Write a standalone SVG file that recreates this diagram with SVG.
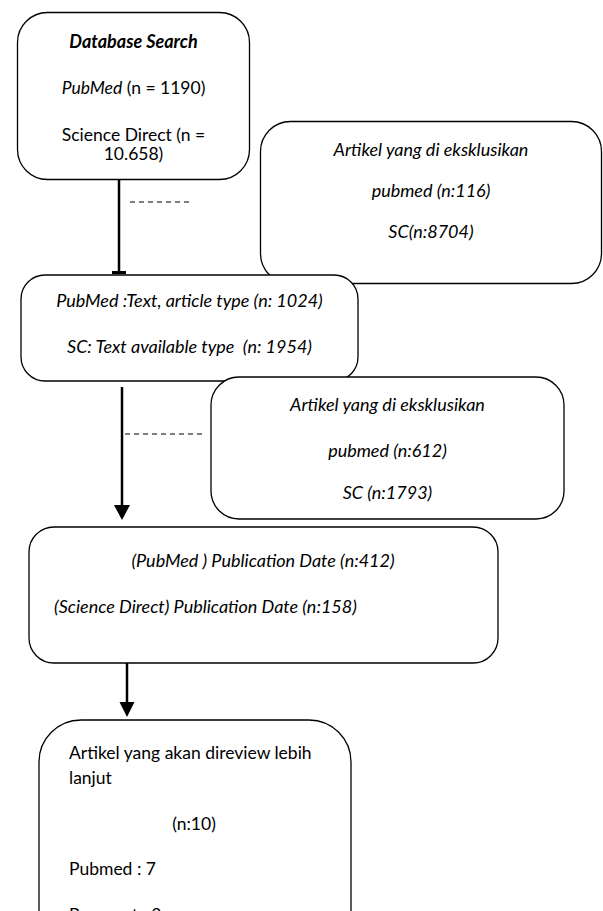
<svg xmlns="http://www.w3.org/2000/svg" width="603" height="911" viewBox="0 0 603 911">
<style>
.box{fill:#fff;stroke:#000;stroke-width:1.3}
.t{font-family:Lato,"Open Sans","Liberation Sans",sans-serif;font-size:17.5px;fill:#000}
.i{font-style:italic;font-size:18px}
.c{text-anchor:middle}
.ln{stroke:#000;stroke-width:2.5;fill:none}
.ds{stroke:#000;stroke-width:1.2;stroke-dasharray:5 4;fill:none}
</style>
<rect width="603" height="911" fill="#fff"/>
<g id="connectors">
<line class="ln" x1="119" y1="180" x2="119" y2="272"/>
<rect x="112" y="271" width="14" height="3" fill="#000"/>
<line class="ds" x1="130" y1="202" x2="192" y2="202"/>
<line class="ln" x1="122" y1="387" x2="122" y2="506"/>
<path d="M114 505 L130 505 L122 520 Z" fill="#000"/>
<line class="ds" x1="125" y1="434" x2="206" y2="434"/>
<line class="ln" x1="127" y1="655" x2="127" y2="703"/>
<path d="M119.5 702 L134.5 702 L127 717 Z" fill="#000"/>
</g>
<g id="n1">
<rect class="box" x="17.5" y="12.5" width="232" height="167" rx="30"/>
<text class="t c i" x="133.5" y="47.5" font-weight="bold">Database Search</text>
<text class="t c" x="133.5" y="94"><tspan class="i" style="font-size:17.5px">PubMed</tspan> (n = 1190)</text>
<text class="t c" x="133.5" y="141">Science Direct (n =</text>
<text class="t c" x="133.5" y="160">10.658)</text>
</g>
<g id="n2">
<rect class="box" x="260.5" y="121.5" width="341" height="162" rx="30"/>
<text class="t c i" x="431" y="156">Artikel yang di eksklusikan</text>
<text class="t c i" x="431" y="197">pubmed (n:116)</text>
<text class="t c i" x="431" y="238">SC(n:8704)</text>
</g>
<g id="n3">
<rect class="box" x="21" y="275" width="337" height="106" rx="24"/>
<text class="t c i" x="189.5" y="307">PubMed :Text, article type (n: 1024)</text>
<text class="t c i" x="189.5" y="353" xml:space="preserve">SC: Text available type  (n: 1954)</text>
</g>
<g id="n4">
<rect class="box" x="211" y="377" width="353" height="142" rx="28"/>
<text class="t c i" x="387.5" y="411">Artikel yang di eksklusikan</text>
<text class="t c i" x="387.5" y="457">pubmed (n:612)</text>
<text class="t c i" x="387.5" y="499">SC (n:1793)</text>
</g>
<g id="n5">
<rect class="box" x="29" y="527" width="469" height="136" rx="25"/>
<text class="t c i" x="263" y="567">(PubMed ) Publication Date (n:412)</text>
<text class="t i" x="54" y="613">(Science Direct) Publication Date (n:158)</text>
</g>
<g id="n6">
<path class="box" d="M39 925 L39 762 A42 42 0 0 1 81 720 L309 720 A42 42 0 0 1 351 762 L351 925"/>
<text class="t" x="69" y="759">Artikel yang akan direview lebih</text>
<text class="t" x="69" y="784">lanjut</text>
<text class="t c" x="194" y="830">(n:10)</text>
<text class="t" x="69" y="875">Pubmed : 7</text>
<text class="t" x="69" y="921">Proquest : 3</text>
</g>
</svg>
